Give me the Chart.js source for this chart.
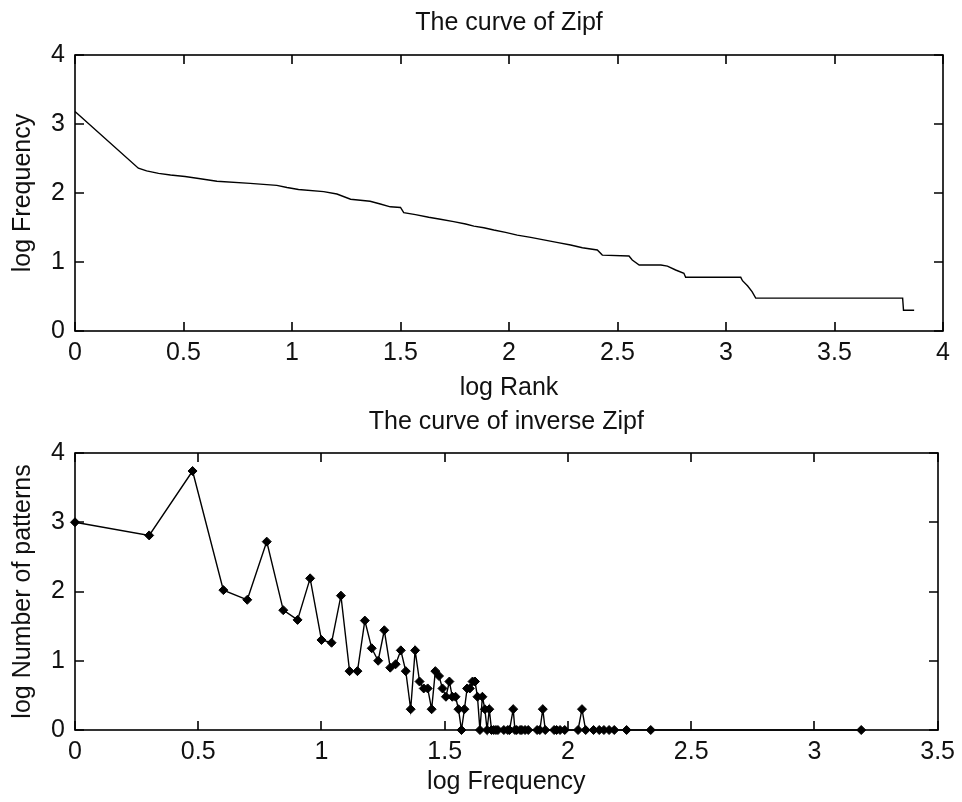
<!DOCTYPE html>
<html><head><meta charset="utf-8">
<script src="https://cdn.jsdelivr.net/npm/chart.js@4/dist/chart.umd.min.js"></script>
<style>
html,body{margin:0;padding:0;background:#fff;}
#wrap{position:relative;width:962px;height:802px;background:#fff;}
#ca{position:absolute;left:0;top:0;}
#cb{position:absolute;left:0;top:403px;}
</style></head><body>
<div id="wrap"><canvas id="ca" width="962" height="403"></canvas><canvas id="cb" width="962" height="399"></canvas></div>
<script>
// ---- Top: The curve of Zipf ----
const zipfLogRank = [0,0.292,0.33,0.385,0.44,0.507,0.57,0.654,0.807,0.93,0.977,1.03,1.146,1.207,1.27,1.36,1.407,1.453,1.5,1.515,1.569,1.63,1.684,1.745,1.80,1.838,1.884,1.93,1.984,2.038,2.10,2.16,2.22,2.284,2.338,2.407,2.43,2.553,2.568,2.60,2.70,2.73,2.768,2.806,2.814,3.068,3.076,3.10,3.12,3.137,3.814,3.818,3.867];
const zipfLogFreq = [3.18,2.36,2.32,2.285,2.26,2.24,2.21,2.17,2.14,2.11,2.08,2.05,2.02,1.985,1.91,1.88,1.84,1.80,1.79,1.714,1.686,1.648,1.62,1.585,1.55,1.52,1.497,1.464,1.43,1.39,1.357,1.32,1.285,1.246,1.207,1.174,1.10,1.087,1.029,0.956,0.956,0.94,0.884,0.836,0.778,0.778,0.729,0.652,0.57,0.477,0.477,0.301,0.301];
const topXTicks = [0,0.5,1,1.5,2,2.5,3,3.5,4];
const topYTicks = [0,1,2,3,4];

// ---- Bottom: The curve of inverse Zipf ----
const invLogFreq = [0,0.301,0.477,0.602,0.699,0.778,0.845,0.903,0.954,1.0,1.041,1.079,1.114,1.146,1.176,1.204,1.230,1.255,1.279,1.301,1.322,1.342,1.362,1.380,1.398,1.415,1.431,1.447,1.462,1.477,1.491,1.505,1.519,1.531,1.544,1.556,1.568,1.580,1.591,1.602,1.613,1.623,1.633,1.643,1.653,1.663,1.672,1.681,1.690,1.699,1.708,1.716,1.740,1.756,1.763,1.778,1.785,1.792,1.806,1.813,1.826,1.839,1.875,1.886,1.898,1.908,1.944,1.954,1.968,1.987,2.041,2.057,2.072,2.104,2.127,2.146,2.167,2.188,2.238,2.336,3.19];
const invLogCount = [3.0,2.81,3.74,2.02,1.88,2.72,1.73,1.59,2.19,1.30,1.26,1.94,0.85,0.85,1.58,1.18,1.0,1.44,0.90,0.95,1.15,0.85,0.30,1.15,0.70,0.60,0.60,0.30,0.85,0.78,0.60,0.48,0.70,0.48,0.48,0.30,0,0.30,0.60,0.60,0.70,0.70,0.48,0,0.48,0.30,0,0.30,0,0,0,0,0,0,0,0.301,0,0,0,0,0,0,0,0,0.301,0,0,0,0,0,0,0.301,0,0,0,0,0,0,0,0,0];
const botXTicks = [0,0.5,1,1.5,2,2.5,3,3.5];
const botYTicks = [0,1,2,3,4];

const FONT = {family: "'Liberation Sans', Arial, sans-serif", size: 25, lineHeight: 1.2};
Chart.defaults.font = FONT;
Chart.defaults.color = '#111';

const boxPlugin = {
  id: 'box',
  afterDraw(chart) {
    const {ctx, chartArea: a, scales: {x, y}} = chart;
    ctx.save();
    ctx.strokeStyle = '#000';
    ctx.lineWidth = 1.6;
    const L = Math.round(a.left), R = Math.round(a.right), T = Math.round(a.top), B = Math.round(a.bottom);
    ctx.strokeRect(L, T, R - L, B - T);
    const tl = 9;
    ctx.beginPath();
    x.ticks.forEach(t => {
      const px = Math.round(x.getPixelForValue(t.value));
      ctx.moveTo(px, B); ctx.lineTo(px, B - tl);
      ctx.moveTo(px, T); ctx.lineTo(px, T + tl);
    });
    y.ticks.forEach(t => {
      const py = Math.round(y.getPixelForValue(t.value));
      ctx.moveTo(L, py); ctx.lineTo(L + tl, py);
      ctx.moveTo(R, py); ctx.lineTo(R - tl, py);
    });
    ctx.stroke();
    ctx.restore();
  }
};

function makeOptions(cfg) {
  return {
    responsive: false,
    animation: false,
    events: [],
    layout: {padding: {left: 0, right: 19, top: 0, bottom: 0}},
    plugins: {
      legend: {display: false},
      tooltip: {enabled: false},
      title: {display: true, text: cfg.title, fullSize: false, color: '#111', font: {size: 25, weight: 'normal'},
              padding: {top: cfg.titlePadTop, bottom: cfg.titlePadBottom}}
    },
    scales: {
      x: {
        type: 'linear', min: cfg.xTicks[0], max: cfg.xTicks[cfg.xTicks.length - 1],
        grid: {display: false, drawTicks: false}, border: {display: false},
        afterBuildTicks: s => { s.ticks = cfg.xTicks.map(v => ({value: v})); },
        afterFit: s => { s.height = cfg.xHeight; },
        ticks: {padding: 7, maxRotation: 0, autoSkip: false, callback: v => String(v)},
        title: {display: true, text: cfg.xTitle, color: '#111', padding: {top: 0, bottom: cfg.xTitlePadBottom}}
      },
      y: {
        type: 'linear', min: cfg.yTicks[0], max: cfg.yTicks[cfg.yTicks.length - 1],
        grid: {display: false, drawTicks: false}, border: {display: false},
        afterBuildTicks: s => { s.ticks = cfg.yTicks.map(v => ({value: v})); },
        afterFit: s => { s.width = 75; },
        ticks: {padding: 10, autoSkip: false, callback: v => String(v)},
        title: {display: true, text: cfg.yTitle, color: '#111', padding: {top: 8, bottom: 0}}
      }
    }
  };
}

new Chart(document.getElementById('ca'), {
  type: 'scatter',
  data: {datasets: [{
    data: zipfLogRank.map((x, i) => ({x, y: zipfLogFreq[i]})),
    showLine: true, borderColor: '#000', borderWidth: 1.4, pointRadius: 0, fill: false, clip: false
  }]},
  options: makeOptions({title: 'The curve of Zipf', titlePadTop: 8.5, titlePadBottom: 16.5,
    xTicks: topXTicks, yTicks: topYTicks, xHeight: 72, xTitle: 'log Rank', xTitlePadBottom: 0,
    yTitle: 'log Frequency'}),
  plugins: [boxPlugin]
});

new Chart(document.getElementById('cb'), {
  type: 'scatter',
  data: {datasets: [{
    data: invLogFreq.map((x, i) => ({x, y: invLogCount[i]})),
    showLine: true, borderColor: '#000', borderWidth: 1.4,
    pointStyle: 'rectRot', pointRadius: 4.5, pointBackgroundColor: '#000', pointBorderColor: '#000', pointBorderWidth: 1,
    fill: false, clip: false
  }]},
  options: makeOptions({title: 'The curve of inverse Zipf', titlePadTop: 3.8, titlePadBottom: 16.2,
    xTicks: botXTicks, yTicks: botYTicks, xHeight: 72, xTitle: 'log Frequency', xTitlePadBottom: 5,
    yTitle: 'log Number of patterns'}),
  plugins: [boxPlugin]
});
</script>
</body></html>
